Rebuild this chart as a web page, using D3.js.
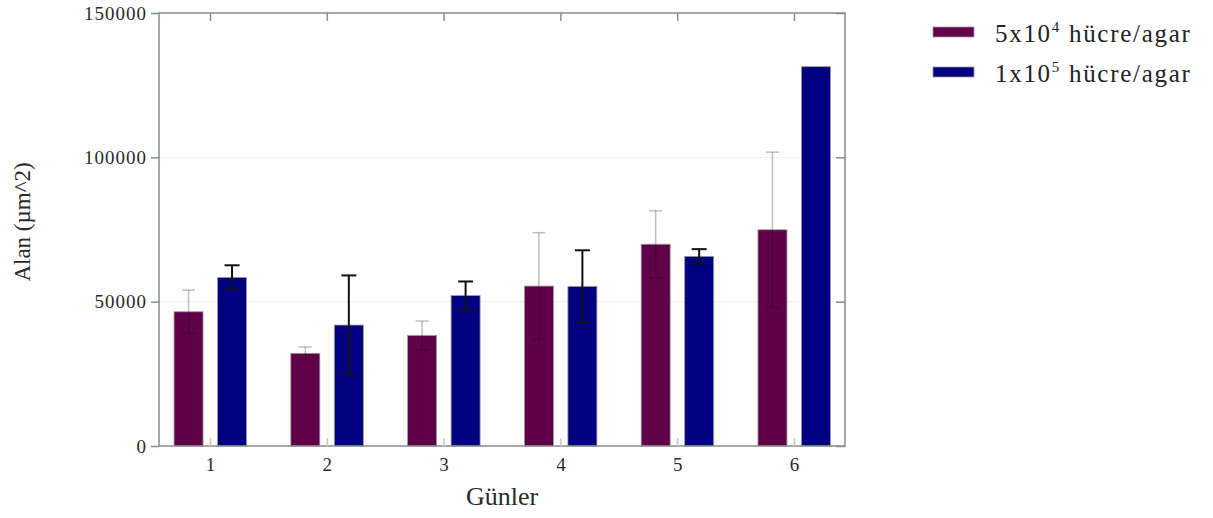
<!DOCTYPE html>
<html>
<head>
<meta charset="utf-8">
<script src="https://cdn.jsdelivr.net/npm/d3@7"></script>
<style>
  body { margin: 0; background: #fff; }
  text { font-family: "Liberation Serif", "DejaVu Serif", serif; }
</style>
</head>
<body>
<div id="chart"></div>
<script>
// values
var days = ["1", "2", "3", "4", "5", "6"];
var low = [46500, 32100, 38300, 55400, 69900, 74900];     // 5x10^4 hücre/agar
var lowErr = [7500, 2200, 5000, 18500, 11600, 26900];
var high = [58400, 41900, 52100, 55300, 65700, 131400];   // 1x10^5 hücre/agar
var highErr = [4200, 17200, 4900, 12500, 2500, 0];
var yTicks = [0, 50000, 100000, 150000];
var seriesNames = ["5x10", "1x10"];
var seriesExp = ["4", "5"];

var margin = { top: 13, left: 159 },
    width = 686,
    height = 433;

var svg = d3.select("#chart")
  .append("svg")
  .attr("width", 1213)
  .attr("height", 518);

var g = svg.append("g")
  .attr("transform", "translate(" + margin.left + "," + margin.top + ")");

var x = d3.scalePoint()
  .domain(days)
  .range([0, width])
  .padding(0.437);

var y = d3.scaleLinear()
  .domain([0, 150000])
  .range([height, 0]);

var axisColor = "#8a8a8a";

// faint gridlines
g.selectAll(".grid")
  .data(yTicks.slice(1, 3))
  .enter()
  .append("line")
  .attr("x1", 0)
  .attr("x2", width)
  .attr("y1", function(d) { return y(d); })
  .attr("y2", function(d) { return y(d); })
  .attr("stroke", "#f0f0f0")
  .attr("stroke-width", 1);

var series = [
  { vals: low, err: lowErr, color: "#600048", offset: -21.5, errColor: "rgba(0,0,0,0.25)", errWidth: 1.5, cap: 6.5 },
  { vals: high, err: highErr, color: "#000080", offset: 22, errColor: "#111", errWidth: 2, cap: 7.5 }
];
var barW = 29;

series.forEach(function(s) {
  g.selectAll(null)
    .data(s.vals)
    .enter()
    .append("rect")
    .attr("x", function(d, i) { return x(days[i]) + s.offset - barW / 2; })
    .attr("y", function(d) { return y(d); })
    .attr("width", barW)
    .attr("height", function(d) { return height - y(d); })
    .attr("fill", s.color)
    .attr("stroke", "#9a9a9a")
    .attr("stroke-width", 0.8);
});

series.forEach(function(s) {
  s.vals.forEach(function(v, i) {
    var e = s.err[i];
    if (!e) return;
    var cx = x(days[i]) + s.offset;
    var eg = g.append("g")
      .attr("stroke", s.errColor)
      .attr("stroke-width", s.errWidth);
    eg.append("line")
      .attr("x1", cx).attr("x2", cx)
      .attr("y1", y(v + e)).attr("y2", y(v - e));
    [v + e, v - e].forEach(function(c) {
      eg.append("line")
        .attr("x1", cx - s.cap).attr("x2", cx + s.cap)
        .attr("y1", y(c)).attr("y2", y(c));
    });
  });
});

// frame
g.append("rect")
  .attr("x", 0).attr("y", 0)
  .attr("width", width).attr("height", height)
  .attr("fill", "none")
  .attr("stroke", axisColor)
  .attr("stroke-width", 1.5);

// left axis, ticks outside
var yAxis = g.append("g")
  .call(d3.axisLeft(y).tickValues(yTicks).tickSize(8).tickPadding(4).tickFormat(d3.format("d")));
yAxis.select(".domain").remove();
yAxis.selectAll("line").attr("stroke", axisColor).attr("stroke-width", 1.5);
yAxis.selectAll("text")
  .attr("fill", "#2a2a2a")
  .style("font-size", "19px")
  .style("letter-spacing", "1px")
  .style("font-family", "Liberation Serif, serif");

// right axis, ticks inside
var yAxisR = g.append("g")
  .attr("transform", "translate(" + width + ",0)")
  .call(d3.axisRight(y).tickValues(yTicks).tickSize(-9).tickFormat(""));
yAxisR.select(".domain").remove();
yAxisR.selectAll("line").attr("stroke", axisColor).attr("stroke-width", 1.5);

// bottom axis, ticks inside
var xAxis = g.append("g")
  .attr("transform", "translate(0," + height + ")")
  .call(d3.axisBottom(x).tickSize(-8).tickPadding(12));
xAxis.select(".domain").remove();
xAxis.selectAll("line").attr("stroke", "#c8c8c8").attr("stroke-width", 1.5);
xAxis.selectAll("text")
  .attr("fill", "#2a2a2a")
  .style("font-size", "19px")
  .style("font-family", "Liberation Serif, serif");

// top axis, ticks inside
var xAxisT = g.append("g")
  .call(d3.axisTop(x).tickSize(-8).tickFormat(""));
xAxisT.select(".domain").remove();
xAxisT.selectAll("line").attr("stroke", axisColor).attr("stroke-width", 1.5);

// axis titles
svg.append("text")
  .attr("x", 502)
  .attr("y", 505)
  .attr("text-anchor", "middle")
  .attr("fill", "#2a2a2a")
  .style("font-size", "26px")
  .text("Günler");

svg.append("text")
  .attr("transform", "translate(30,222) rotate(-90)")
  .attr("text-anchor", "middle")
  .attr("fill", "#2a2a2a")
  .style("font-size", "23px")
  .text("Alan (µm^2)");

// legend
var legend = svg.append("g")
  .attr("transform", "translate(933,27)");
series.forEach(function(s, i) {
  var row = legend.append("g").attr("transform", "translate(0," + (i * 40) + ")");
  row.append("rect")
    .attr("width", 41).attr("height", 10)
    .attr("fill", s.color)
    .attr("stroke", "#999").attr("stroke-width", 0.8);
  var t = row.append("text")
    .attr("x", 62).attr("y", 15)
    .attr("fill", "#222")
    .style("font-size", "25px")
    .style("letter-spacing", "1.7px");
  t.append("tspan").text(seriesNames[i]);
  t.append("tspan").attr("dy", -10).style("font-size", "15px").text(seriesExp[i]);
  t.append("tspan").attr("dy", 10).text(" hücre/agar");
});
</script>
</body>
</html>
